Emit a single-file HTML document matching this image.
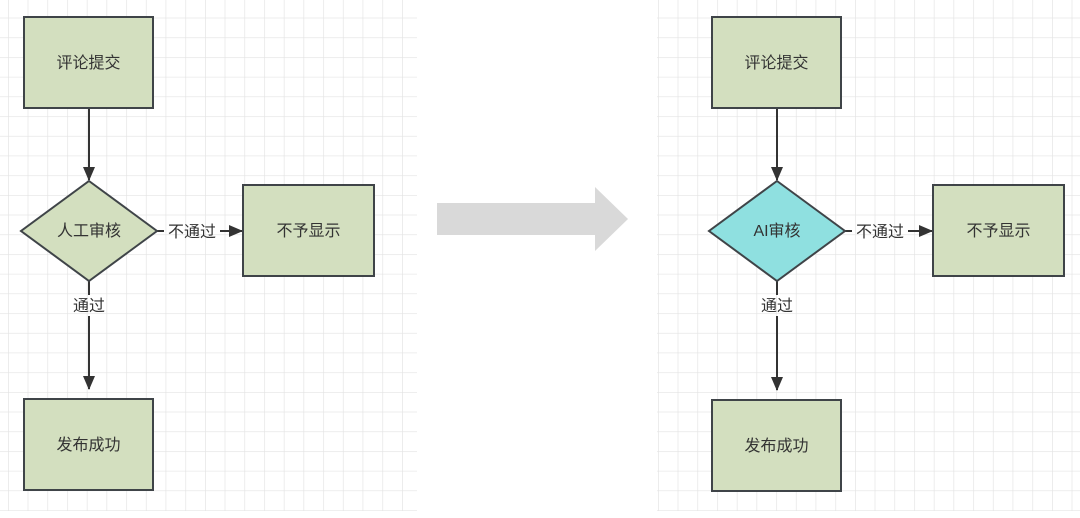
<!DOCTYPE html>
<html><head><meta charset="utf-8"><style>
html,body{margin:0;padding:0;background:#fff;}
svg text{font-family:"Liberation Sans","Noto Sans CJK SC",sans-serif;font-size:16px;fill:#333;}
</style></head><body>
<svg width="1080" height="513" viewBox="0 0 1080 513" xmlns="http://www.w3.org/2000/svg">
<defs>
<pattern id="g" x="8" y="-2" width="19.7" height="19.7" patternUnits="userSpaceOnUse">
<path d="M0 0H19.7M0 0V19.7" stroke="#e3e3e3" stroke-width="1.3" fill="none"/>
</pattern>
<pattern id="g2" x="658" y="-2" width="19.7" height="19.7" patternUnits="userSpaceOnUse">
<path d="M0 0H19.7M0 0V19.7" stroke="#e3e3e3" stroke-width="1.3" fill="none"/>
</pattern>
<marker id="a" markerWidth="14" markerHeight="12" refX="13" refY="6" orient="auto" markerUnits="userSpaceOnUse">
<path d="M0 0L14 6L0 12z" fill="#333"/>
</marker>
</defs>
<rect x="0" y="0" width="417" height="511" fill="url(#g)"/>
<rect x="657" y="0" width="423" height="511" fill="url(#g2)"/>
<polygon points="437,203 595,203 595,187 628,219 595,251 595,235 437,235" fill="#d9d9d9"/>

<g>
<line x1="89" y1="108" x2="89" y2="180" stroke="#333" stroke-width="2" marker-end="url(#a)"/>
<line x1="157" y1="231" x2="164" y2="231" stroke="#333" stroke-width="2"/>
<line x1="220" y1="231" x2="242" y2="231" stroke="#333" stroke-width="2" marker-end="url(#a)"/>
<line x1="89" y1="281" x2="89" y2="295" stroke="#333" stroke-width="2"/>
<line x1="89" y1="316" x2="89" y2="389" stroke="#333" stroke-width="2" marker-end="url(#a)"/>
<rect x="24" y="17" width="129" height="91" fill="#d3dfbf" stroke="#3f4448" stroke-width="2"/>
<rect x="243" y="185" width="131" height="91" fill="#d3dfbf" stroke="#3f4448" stroke-width="2"/>
<rect x="24" y="399" width="129" height="91" fill="#d3dfbf" stroke="#3f4448" stroke-width="2"/>
<text x="88.5" y="68" text-anchor="middle">评论提交</text>
<text x="308.5" y="236" text-anchor="middle">不予显示</text>
<text x="88.5" y="450" text-anchor="middle">发布成功</text>
<text x="192" y="237" text-anchor="middle">不通过</text>
<text x="89" y="311" text-anchor="middle">通过</text>
</g>
<polygon points="89,181 157,231 89,281 21,231" fill="#d3dfbf" stroke="#3f4448" stroke-width="2"/>
<text x="89" y="236" text-anchor="middle">人工审核</text>

<g transform="translate(688,0)">
<line x1="89" y1="108" x2="89" y2="180" stroke="#333" stroke-width="2" marker-end="url(#a)"/>
<line x1="157" y1="231" x2="164" y2="231" stroke="#333" stroke-width="2"/>
<line x1="220" y1="231" x2="244" y2="231" stroke="#333" stroke-width="2" marker-end="url(#a)"/>
<line x1="89" y1="281" x2="89" y2="295" stroke="#333" stroke-width="2"/>
<line x1="89" y1="316" x2="89" y2="390" stroke="#333" stroke-width="2" marker-end="url(#a)"/>
<rect x="24" y="17" width="129" height="91" fill="#d3dfbf" stroke="#3f4448" stroke-width="2"/>
<rect x="245" y="185" width="131" height="91" fill="#d3dfbf" stroke="#3f4448" stroke-width="2"/>
<rect x="24" y="400" width="129" height="91" fill="#d3dfbf" stroke="#3f4448" stroke-width="2"/>
<text x="88.5" y="68" text-anchor="middle">评论提交</text>
<text x="310.5" y="236" text-anchor="middle">不予显示</text>
<text x="88.5" y="451" text-anchor="middle">发布成功</text>
<text x="192" y="237" text-anchor="middle">不通过</text>
<text x="89" y="311" text-anchor="middle">通过</text>
<polygon points="89,181 157,231 89,281 21,231" fill="#8fe0e0" stroke="#3f4448" stroke-width="2"/>
<text x="89" y="236" text-anchor="middle">AI审核</text>
</g>
</svg>
</body></html>
